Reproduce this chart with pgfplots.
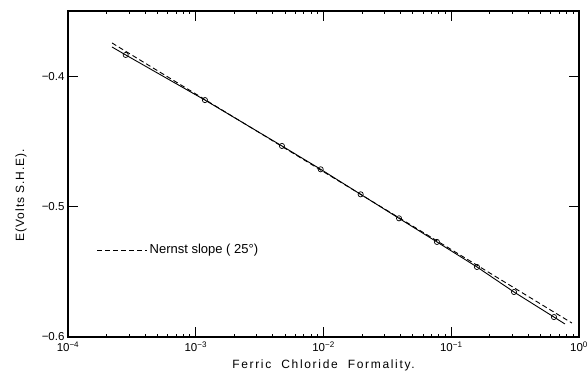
\documentclass[border=0pt]{standalone}
\usepackage{fontspec}
\setmainfont{Liberation Sans}
\usepackage{pgfplots}
\pgfplotsset{compat=1.18}
\begin{document}
\begin{tikzpicture}
\begin{axis}[
  scale only axis, width=511pt, height=326pt,
  xmode=log, xmin=1e-4, xmax=1, ymin=-0.6, ymax=-0.35,
  axis line style={line width=1.3pt},
  tick align=inside, major tick length=10pt,
  tick style={line width=0.8pt, black},
  xtick={1e-4,1e-3,1e-2,1e-1,1},
  xticklabels={10\textsuperscript{−4},10\textsuperscript{−3},10\textsuperscript{−2},10\textsuperscript{−1},10\textsuperscript{0}},
  minor xtick={}, 
  ytick={-0.6,-0.5,-0.4},
  yticklabels={−0.6,−0.5,−0.4},
  ticklabel style={font=\fontsize{11.5}{13}\selectfont},
  xticklabel style={yshift=-1pt},
  xlabel={\addfontfeatures{LetterSpace=14}Ferric\ \ Chloride\ \ Formality.},
  xlabel style={font=\fontsize{12}{14}\selectfont, yshift=-1pt},
  ylabel={\addfontfeatures{LetterSpace=8}E(Volts\ S.H.E).},
  ylabel style={font=\fontsize{12}{14}\selectfont, at={(axis description cs:-0.092,0.435)}, anchor=center, rotate=0},
  legend style={draw=none, fill=none, at={(0.05,0.267)}, anchor=west, font=\fontsize{13}{15}\selectfont},
  legend cell align=left,
  legend image code/.code={\draw[#1] (0pt,0pt) -- (50pt,0pt);},
]
\addplot[black, line width=0.9pt, dash pattern=on 5pt off 3pt] coordinates {(2.21e-4,-0.3745) (0.881,-0.5893)};
\addlegendentry{Nernst slope ( 25°)}
\addplot[black, line width=0.9pt, forget plot] coordinates {
(2.21e-4,-0.3776) (2.83e-4,-0.3837) (1.18e-3,-0.4183) (4.73e-3,-0.4535) (9.51e-3,-0.4714) (1.955e-2,-0.4906)
(3.9e-2,-0.5090) (7.73e-2,-0.5271) (0.159,-0.5463) (0.31,-0.5655) (0.637,-0.5847) (0.776,-0.5900)};
\addplot[only marks, mark=o, mark size=2.6pt, mark options={fill=white, line width=0.7pt}, forget plot] coordinates {
(2.83e-4,-0.3837) (1.18e-3,-0.4183) (4.73e-3,-0.4535) (9.51e-3,-0.4714) (1.955e-2,-0.4906)
(3.9e-2,-0.5090) (7.73e-2,-0.5271) (0.159,-0.5463) (0.31,-0.5655) (0.637,-0.5847)};
\end{axis}
\pgfresetboundingbox
\path ([shift={(-68pt,-46pt)}]current axis.south west) rectangle ([shift={(8pt,11pt)}]current axis.north east);
\end{tikzpicture}
\end{document}
